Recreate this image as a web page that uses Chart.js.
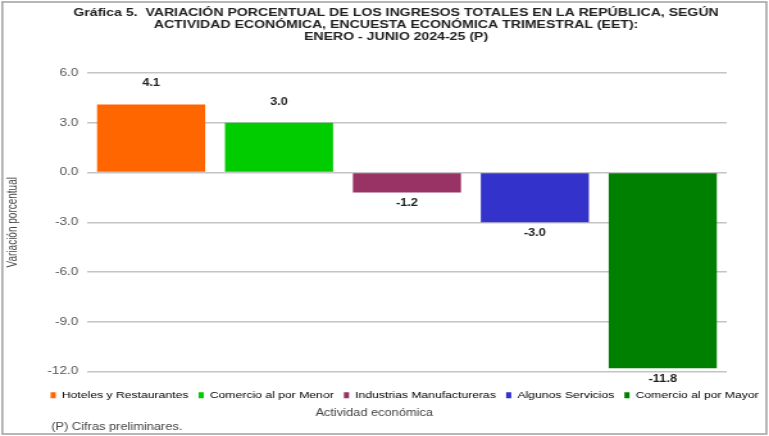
<!DOCTYPE html>
<html>
<head>
<meta charset="utf-8">
<script src="https://cdn.jsdelivr.net/npm/chart.js@4.4.1/dist/chart.umd.min.js"></script>
<style>
  html, body { margin: 0; padding: 0; background: #fff; overflow: hidden; }
  /* the reference picture is stretched sideways, so the canvas is too */
  #wrap { width: 600px; height: 436px; transform: scaleX(1.28167); transform-origin: 0 0; }
</style>
</head>
<body>
<div id="wrap"><canvas id="chart" width="600" height="436"></canvas></div>
<script>
const categories = [
  'Hoteles y Restaurantes',
  'Comercio al por Menor',
  'Industrias Manufactureras',
  'Algunos Servicios',
  'Comercio al por Mayor'
];
const variacion = [4.1, 3.0, -1.2, -3.0, -11.8];
const barColors = ['#FF6600', '#00CC00', '#993366', '#3333CC', '#008000'];
const titleLines = [
  'Gráfica 5.  VARIACIÓN PORCENTUAL DE LOS INGRESOS TOTALES EN LA REPÚBLICA, SEGÚN',
  'ACTIVIDAD ECONÓMICA, ENCUESTA ECONÓMICA TRIMESTRAL (EET):',
  'ENERO - JUNIO 2024-25 (P)'
];
const yTitle = 'Variación porcentual';
const xTitle = 'Actividad económica';
const footnote = '(P) Cifras preliminares.';

const FONT = '"Liberation Sans", Arial, sans-serif';

// frame, title and notes drawn around the chart
const decorations = {
  id: 'decorations',
  beforeDraw(chart) {
    const ctx = chart.ctx;
    ctx.save();
    ctx.fillStyle = '#fff';
    ctx.fillRect(0, 0, chart.width, chart.height);
    ctx.restore();
  },
  afterDraw(chart) {
    const ctx = chart.ctx;
    ctx.save();
    ctx.strokeStyle = '#a6a6a6';
    ctx.lineWidth = 1.6;
    ctx.strokeRect(1.8, 2, chart.width - 3.8, chart.height - 4);

    ctx.fillStyle = '#222';
    ctx.textAlign = 'center';
    ctx.textBaseline = 'middle';
    ctx.font = 'bold 11px ' + FONT;
    titleLines.forEach((t, i) => ctx.fillText(t, 309, 13 + i * 12));

    ctx.fillStyle = '#444';
    ctx.font = '10px ' + FONT;
    ctx.fillText(xTitle, 292, 413);
    ctx.textAlign = 'left';
    ctx.fillText(footnote, 40, 427);
    ctx.restore();
  }
};

// value labels above / below bars
const valueLabels = {
  id: 'valueLabels',
  afterDatasetsDraw(chart) {
    const ctx = chart.ctx;
    const meta = chart.getDatasetMeta(0);
    ctx.save();
    ctx.font = 'bold 10px ' + FONT;
    ctx.fillStyle = '#222';
    ctx.textAlign = 'center';
    ctx.textBaseline = 'middle';
    meta.data.forEach((bar, i) => {
      const v = variacion[i];
      const y = v >= 0 ? bar.y - 21 : bar.y + 11;
      ctx.fillText(v.toFixed(1), bar.x, y);
    });
    ctx.restore();
  }
};

new Chart(document.getElementById('chart'), {
  type: 'bar',
  data: {
    labels: categories,
    datasets: [{
      data: variacion,
      backgroundColor: barColors,
      borderWidth: 0,
      categoryPercentage: 1.0,
      barPercentage: 0.845
    }]
  },
  options: {
    responsive: false,
    animation: false,
    layout: { padding: { top: 73, left: 0, right: 0, bottom: 26 } },
    plugins: {
      tooltip: { enabled: false },
      title: { display: false },
      legend: {
        position: 'bottom',
        align: 'end',
        labels: {
          font: { family: FONT, size: 9.5 },
          color: '#444',
          boxWidth: 4,
          boxHeight: 6,
          padding: 8,
          generateLabels(chart) {
            return categories.map((c, i) => ({
              text: c,
              fillStyle: barColors[i],
              strokeStyle: barColors[i],
              lineWidth: 0,
              index: i
            }));
          }
        }
      }
    },
    scales: {
      x: {
        ticks: { display: false },
        grid: { display: false },
        border: { display: false },
        afterFit(scale) { scale.height = 11; }
      },
      y: {
        min: -12,
        max: 6,
        ticks: {
          stepSize: 3,
          padding: 7,
          color: '#555',
          font: { family: FONT, size: 10.5 },
          callback: (v) => Number(v).toFixed(1)
        },
        grid: { color: '#c4c4c4', lineWidth: 1.5, drawTicks: false },
        border: { display: false },
        title: {
          display: true,
          text: yTitle,
          color: '#444',
          font: { family: FONT, size: 10 },
          padding: { top: 4, bottom: 0 }
        },
        afterFit(scale) { scale.width = 68; }
      },
      y2: {
        position: 'right',
        display: true,
        ticks: { display: false },
        grid: { display: false },
        border: { display: false },
        afterFit(scale) { scale.width = 33; }
      }
    }
  },
  plugins: [decorations, valueLabels]
});
</script>
</body>
</html>
